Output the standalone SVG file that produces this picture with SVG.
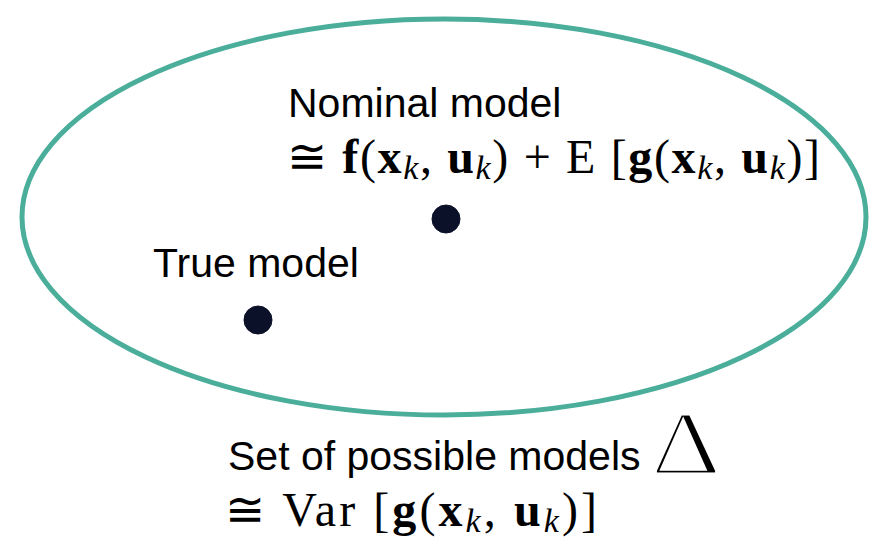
<svg xmlns="http://www.w3.org/2000/svg" width="878" height="543" viewBox="0 0 878 543">
<style>
.lbl{font-family:"Liberation Sans",Arial,sans-serif;font-size:41px;fill:#000}
.math{font-family:"Liberation Serif","Times New Roman",serif;font-size:48px;fill:#000}
.b{font-weight:bold}
.sub{font-style:italic;font-size:34px}
.dot{fill:#0a1128;stroke:#0a1128;stroke-width:1}
</style>
<rect width="878" height="543" fill="#fff"/>
<g id="set">
<ellipse cx="444" cy="217" rx="422" ry="198" fill="none" stroke="#4aae9b" stroke-width="5"/>
</g>
<g id="nominal">
<text class="lbl" x="288" y="117">Nominal model</text>
<text class="math" x="287" y="173" textLength="533" lengthAdjust="spacing">≅ <tspan class="b">f</tspan>(<tspan class="b">x</tspan><tspan class="sub" dy="6">k</tspan><tspan dy="-6">, </tspan><tspan class="b">u</tspan><tspan class="sub" dy="6">k</tspan><tspan dy="-6">) + E [</tspan><tspan class="b">g</tspan>(<tspan class="b">x</tspan><tspan class="sub" dy="6">k</tspan><tspan dy="-6">, </tspan><tspan class="b">u</tspan><tspan class="sub" dy="6">k</tspan><tspan dy="-6">)]</tspan></text>
<circle class="dot" cx="446" cy="219" r="14"/>
</g>
<g id="true">
<text class="lbl" x="153" y="277">True model</text>
<circle class="dot" cx="258" cy="320" r="14"/>
</g>
<g id="possible">
<text class="lbl" x="228" y="470">Set of possible models</text>
<text x="651" y="474" style="font-family:'Liberation Serif',serif;font-size:92px;font-weight:normal;stroke:#fff;stroke-width:3" textLength="70" lengthAdjust="spacingAndGlyphs">Δ</text>
<text class="math" x="225" y="526" textLength="372" lengthAdjust="spacing">≅ Var [<tspan class="b">g</tspan>(<tspan class="b">x</tspan><tspan class="sub" dy="6">k</tspan><tspan dy="-6">, </tspan><tspan class="b">u</tspan><tspan class="sub" dy="6">k</tspan><tspan dy="-6">)]</tspan></text>
</g>
</svg>
